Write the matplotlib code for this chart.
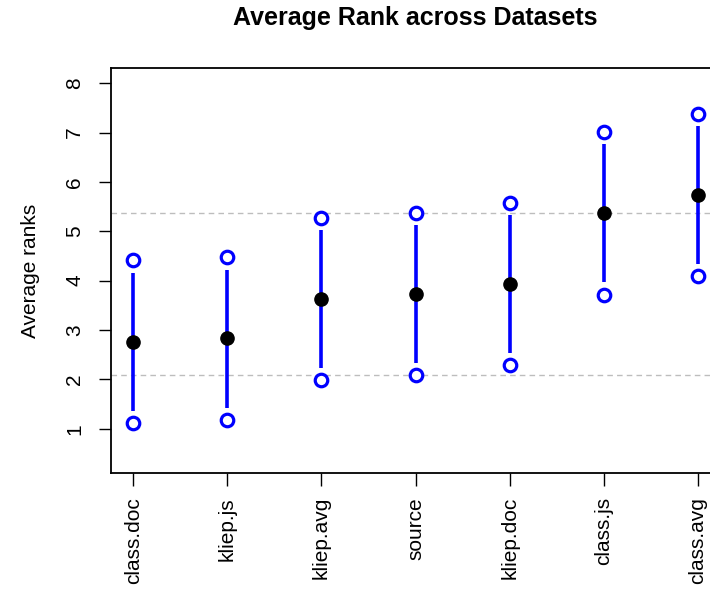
import matplotlib
matplotlib.use("Agg")
import matplotlib.pyplot as plt
import numpy as np

plt.rcParams['font.family'] = ['Liberation Sans', 'DejaVu Sans']

# methods ordered by average rank
methods = ['class.doc', 'kliep.js', 'kliep.avg', 'source', 'kliep.doc', 'class.js', 'class.avg']
mean_rank = [2.76, 2.83, 3.63, 3.73, 3.93, 5.37, 5.73]
upper = [4.41, 4.47, 5.27, 5.38, 5.58, 7.01, 7.38]
lower = [1.12, 1.18, 1.98, 2.09, 2.29, 3.72, 4.09]
# reference lines (critical difference band)
ref_lines = [2.09, 5.37]

W, H = 710, 590
fig = plt.figure(figsize=(W / 100, H / 100), dpi=100)
# right edge of the plot region is cut off by the figure
left, right, top, bottom = 110.7, 720.5, 68.3, 473.3
ax = fig.add_axes([left / W, 1 - bottom / H, (right - left) / W, (bottom - top) / H])

x = np.arange(1, len(methods) + 1)
gap = 0.25

for y in ref_lines:
    ax.axhline(y, color='#bdbdbd', lw=1.0, ls=(0, (4, 3)), zorder=1)

ax.vlines(x, np.array(lower) + gap, np.array(upper) - gap, color='#0000ff', lw=2.6, zorder=2)
ax.plot(x, upper, 'o', ms=9, mfc='white', mec='#0000ff', mew=2.3, ls='none', zorder=3)
ax.plot(x, lower, 'o', ms=9, mfc='white', mec='#0000ff', mew=2.3, ls='none', zorder=3)
ax.plot(x, mean_rank, 'o', ms=9.5, color='black', ls='none', zorder=4)

ax.set_xlim(0.76, 7.24)
ax.set_ylim(0.1, 8.3)
ax.set_yticks(range(1, 9))
ax.set_yticklabels([str(i) for i in range(1, 9)], rotation=90, va='center')
ax.set_xticks(x)
ax.set_xticklabels(methods, rotation=90, va='top')
ax.tick_params(axis='both', direction='out', length=9, width=1.0, labelsize=15, pad=8)
ax.tick_params(axis='y', pad=10)

for s in ax.spines.values():
    s.set_linewidth(1.3)

ax.set_ylabel('Average ranks', fontsize=15, labelpad=18)
fig.text((left + right) / 2 / W, 1 - 18 / H, 'Average Rank across Datasets',
         ha='center', va='center', fontsize=18, fontweight='bold')

fig.savefig('out.png', dpi=100)
